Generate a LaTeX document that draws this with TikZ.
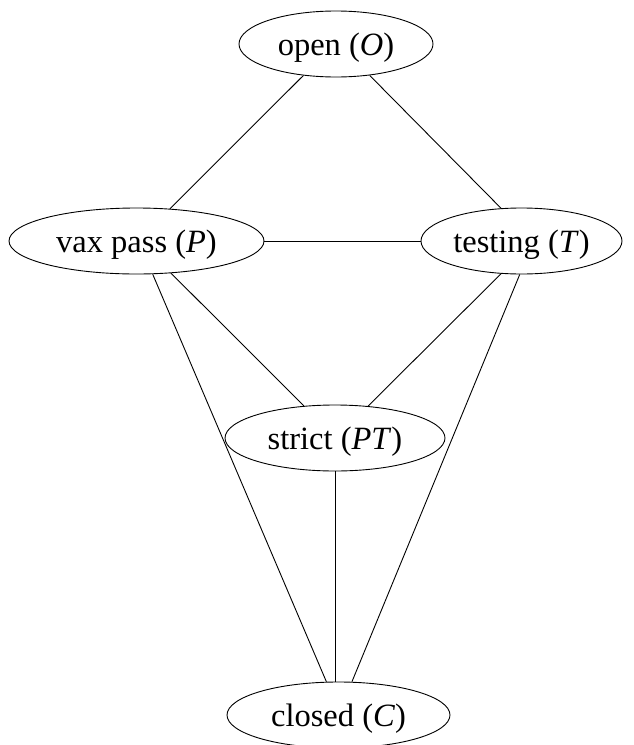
\documentclass[tikz,border=0pt]{standalone}
\usepackage{fontspec}
\setmainfont{Liberation Serif}
\usetikzlibrary{shapes.geometric}
\begin{document}
\begin{tikzpicture}[x=1pt,y=-1pt,
  st/.style={draw, ellipse, inner sep=0pt, line width=0.9pt, minimum height=66pt,
    text height=22pt, text depth=0pt, font=\fontsize{32.5}{39}\selectfont},
  ed/.style={line width=0.9pt}]
\useasboundingbox (0,0) rectangle (633,745);
\node[st, minimum width=194pt] (O) at (336,44) {\makebox[0pt]{open (\textit{O})}};
\node[st, minimum width=255pt] (P) at (136.5,241) {\makebox[0pt]{vax pass (\textit{P})}};
\node[st, minimum width=201pt] (T) at (521.5,241) {\makebox[0pt]{testing (\textit{T})}};
\node[st, minimum width=220pt] (S) at (335,438) {\makebox[0pt]{strict (\textit{PT})}};
\node[st, minimum width=223pt] (C) at (338.5,715) {\makebox[0pt]{closed (\textit{C})}};
\coordinate (Ctop) at (S.south |- C.north);
\draw[ed] (O.-136.8) -- (P.44);
\draw[ed] (O.-43) -- (T.122);
\draw[ed] (P.east) -- (T.west);
\draw[ed] (P.-43.4) -- (S.134);
\draw[ed] (T.-122.9) -- (S.44);
\draw[ed] (P.-64.8) -- (C.110);
\draw[ed] (T.-93.4) -- (C.68.5);
\draw[ed] (S.south) -- (Ctop);
\end{tikzpicture}
\end{document}
